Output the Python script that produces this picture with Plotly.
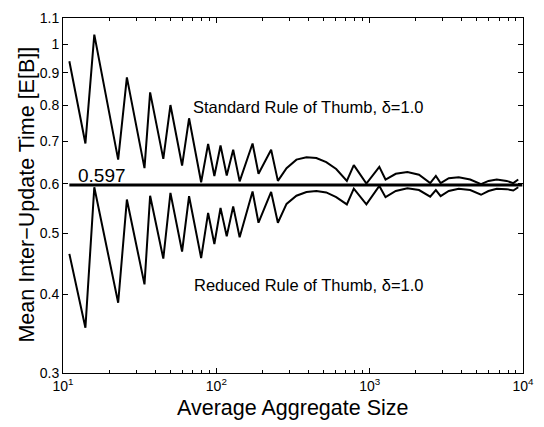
import plotly.graph_objects as go
import math

agg_size = [11.0, 14.0, 16.0, 22.9, 26.1, 34.0, 37.0, 45.1, 50.2, 59.8, 66.4, 79.6, 88.4, 97.1,
            106.5, 116.9, 128.8, 141.9, 172.3, 188.4, 227.7, 252.0, 287, 333, 387, 449, 521, 605,
            710, 788, 952, 1156, 1269, 1480, 1762, 2098, 2482, 2702, 2903, 3280, 3808, 4525,
            5324, 5955, 6740, 7822, 8643, 9311]

standard_rule = [0.939, 0.695, 1.035, 0.655, 0.885, 0.635, 0.838, 0.657, 0.800, 0.641, 0.762, 0.603,
                 0.694, 0.617, 0.690, 0.618, 0.679, 0.605, 0.695, 0.622, 0.679, 0.606, 0.635, 0.655,
                 0.661, 0.659, 0.649, 0.633, 0.606, 0.642, 0.600, 0.638, 0.609, 0.622, 0.626, 0.620,
                 0.601, 0.617, 0.601, 0.612, 0.614, 0.609, 0.599, 0.606, 0.609, 0.606, 0.601, 0.609]

reduced_rule = [0.464, 0.354, 0.592, 0.388, 0.566, 0.415, 0.574, 0.456, 0.580, 0.468, 0.573, 0.457,
                0.539, 0.481, 0.549, 0.495, 0.552, 0.493, 0.583, 0.520, 0.582, 0.520, 0.557, 0.574,
                0.582, 0.584, 0.581, 0.571, 0.556, 0.589, 0.556, 0.595, 0.571, 0.584, 0.590, 0.586,
                0.572, 0.586, 0.573, 0.584, 0.589, 0.586, 0.576, 0.584, 0.589, 0.588, 0.585, 0.592]

ref_x = [11, 9900]
ref_value = 0.597

x_tickvals = [10, 100, 1000, 10000]
x_ticktext = ["10<sup>1</sup>", "10<sup>2</sup>", "10<sup>3</sup>", "10<sup>4</sup>"]
x_minor = [m * d for d in (10, 100, 1000) for m in range(2, 10)]
y_tickvals = [0.3, 0.4, 0.5, 0.6, 0.7, 0.8, 0.9, 1.0, 1.1]
y_ticktext = ["0.3", "0.4", "0.5", "0.6", "0.7", "0.8", "0.9", "1", "1.1"]

x_title = "Average Aggregate Size"
y_title = "Mean Inter−Update Time [E[B]]"

FONT = "Liberation Sans, Arial, Helvetica, sans-serif"

fig = go.Figure()
fig.add_trace(go.Scatter(x=agg_size, y=standard_rule, mode="lines",
                         line=dict(color="black", width=2), showlegend=False))
fig.add_trace(go.Scatter(x=agg_size, y=reduced_rule, mode="lines",
                         line=dict(color="black", width=2), showlegend=False))
fig.add_trace(go.Scatter(x=ref_x, y=[ref_value, ref_value], mode="lines",
                         line=dict(color="black", width=3), showlegend=False))

fig.add_annotation(x=2.5987, y=-0.1001, xref="x", yref="y", text="Standard Rule of Thumb, δ=1.0",
                   showarrow=False, font=dict(size=16.5, color="black", family=FONT))
fig.add_annotation(x=2.5987, y=-0.383, xref="x", yref="y", text="Reduced Rule of Thumb, δ=1.0",
                   showarrow=False, font=dict(size=16.5, color="black", family=FONT))
fig.add_annotation(x=1.2524, y=math.log10(ref_value), xref="x", yref="y", text=str(ref_value),
                   showarrow=False, yanchor="bottom", yshift=-3,
                   font=dict(size=19, color="black", family=FONT))

# axis titles as annotations for exact placement
fig.add_annotation(x=0.501, y=-0.099, xref="paper", yref="paper", text=x_title,
                   showarrow=False, xanchor="center", yanchor="middle",
                   font=dict(size=21.5, color="black", family=FONT))
fig.add_annotation(x=-0.078, y=0.503, xref="paper", yref="paper", text=y_title,
                   showarrow=False, xanchor="center", yanchor="middle", textangle=-90,
                   font=dict(size=21.5, color="black", family=FONT))

axis_common = dict(showline=True, linecolor="black", linewidth=1, mirror="ticks",
                   ticks="inside", tickcolor="black", ticklen=5, showgrid=False, zeroline=False,
                   tickfont=dict(size=14, color="black", family=FONT))

fig.update_xaxes(type="log", range=[1, 4], tickvals=x_tickvals, ticktext=x_ticktext,
                 minor=dict(tickvals=x_minor, ticks="inside", ticklen=3, tickcolor="black"),
                 **axis_common)
fig.update_yaxes(type="log", range=[math.log10(0.3), math.log10(1.1)], tickvals=y_tickvals,
                 ticktext=y_ticktext, **axis_common)

fig.update_layout(width=544, height=427, margin=dict(l=63, r=18, t=10, b=54),
                  plot_bgcolor="white", paper_bgcolor="white",
                  font=dict(family=FONT, color="black"))

fig.write_html("out.html")
